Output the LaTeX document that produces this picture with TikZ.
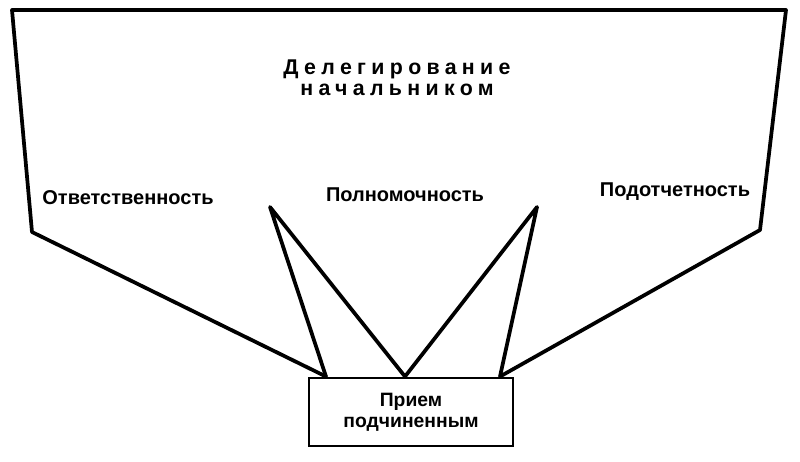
\documentclass[tikz,border=0pt]{standalone}
\usepackage{fontspec}
\setmainfont{Liberation Sans}
\usetikzlibrary{positioning}
\tikzset{
  edge/.style={line width=2.8pt,line join=round,line cap=round},
  lbl/.style={font=\fontsize{15}{17}\selectfont\bfseries},
  headlbl/.style={font=\fontsize{16}{15.5}\selectfont\bfseries\addfontfeature{LetterSpace=25},align=center},
  recvbox/.style={draw,line width=2.2pt,minimum width=153pt,minimum height=51pt,align=center,
    font=\fontsize{14.5}{16}\selectfont\bfseries}
}
\begin{document}
\begin{tikzpicture}[x=0.75pt,y=-0.75pt]
  \useasboundingbox (0,0) rectangle (800,461);
  % box at the bottom
  \node[recvbox] (recv) at (411,412) {Прием\\подчиненным};
  % corners of the outer outline
  \coordinate (tl) at (12,10);
  \coordinate (tr) at (786,10);
  \coordinate (lknee) at (32,232);
  \coordinate (rknee) at (760,230);
  \coordinate (lapex) at (270,207);
  \coordinate (rapex) at (537,207);
  \coordinate (lfoot) at (recv.north -| 326,0);
  \coordinate (mfoot) at (recv.north -| 405,0);
  \coordinate (rfoot) at (recv.north -| 500,0);
  \draw[edge] (lfoot) -- (lknee) -- (tl) -- (tr) -- (rknee) -- (rfoot);
  \draw[edge] (lfoot) -- (lapex) -- (mfoot) -- (rapex) -- (rfoot);
  % labels
  \node[headlbl] (head) at (397,78) {Делегирование\\начальником};
  \node[lbl] (resp) at (128,198) {Ответственность};
  \node[lbl] (auth) at (405,195) {Полномочность};
  \node[lbl] (acct) at (675,192) {Подотчетность};
\end{tikzpicture}
\end{document}
